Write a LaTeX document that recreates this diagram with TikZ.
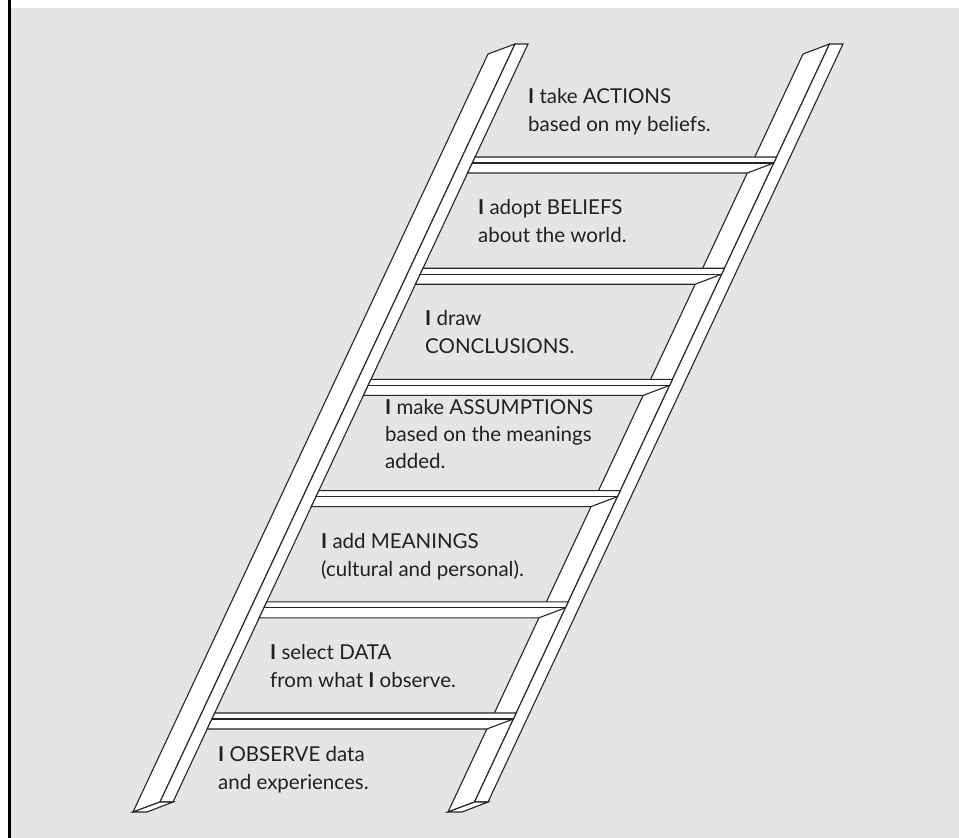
\documentclass[tikz,border=0pt]{standalone}
\usepackage{fontspec}
\setmainfont{Lato}
\begin{document}
\begin{tikzpicture}[x=1pt,y=-1pt,
  beam/.style={draw=inkline,fill=white,line width=1.1pt,line join=miter},
  edge/.style={draw=inkline,line width=1.1pt},
  label/.style={anchor=base west,inner sep=0pt,align=left,text=inktext,
    font=\fontsize{20.5}{28}\selectfont}]
\definecolor{panel}{HTML}{E5E5E5}
\definecolor{inkline}{HTML}{262626}
\definecolor{inktext}{HTML}{231F20}
\useasboundingbox (0,0) rectangle (959,838);
% panel with its dark left edge
\fill[panel] (10,8) rectangle (959,838);
\fill[black] (8,0) rectangle (10.5,838);

% left rail: front face, side face, cut end at the foot
\filldraw[beam] (488,54) -- (515,44) -- (160,802) -- (133,812) -- cycle;
\filldraw[beam] (515,44) -- (528,44) -- (173,802) -- (160,802) -- cycle;
\filldraw[beam] (133,812) -- (147,812) -- (173,802) -- (160,802) -- cycle;
% right rail
\begin{scope}[xshift=315pt]
\filldraw[beam] (488,54) -- (514.5,44) -- (159.5,802) -- (133,812) -- cycle;
\filldraw[beam] (514.5,44) -- (528,44) -- (173,802) -- (159.5,802) -- cycle;
\filldraw[beam] (133,812) -- (147,812) -- (173,802) -- (159.5,802) -- cycle;
\end{scope}

% rungs, laid across the front of the right rail
\foreach \yt in {157,268.2,379.4,490.6,601.8,713} {
  \pgfmathsetmacro\ym{\yt+6}
  \pgfmathsetmacro\yb{\yt+16}
  \pgfmathsetmacro\xa{528-0.46834*(\yt-44)}
  \pgfmathsetmacro\xb{829.5-0.46834*(\yt-44)}
  \pgfmathsetmacro\xc{829.5-0.46834*(\ym-44)}
  \pgfmathsetmacro\xd{803-0.46834*(\yb-54)}
  \pgfmathsetmacro\xe{528-0.46834*(\yb-44)}
  \pgfmathsetmacro\xf{528-0.46834*(\ym-44)}
  \filldraw[beam] (\xa,\yt) -- (\xb,\yt) -- (\xc,\ym) -- (\xd,\yb) -- (\xe,\yb) -- cycle;
  \draw[edge] (\xf,\ym) -- (\xc,\ym);
}

% the steps, from the top of the ladder down (anchored at the last line)
\node[label] (actions) at (528,131) {\textbf{I} take ACTIONS\\based on my beliefs.};
\node[label] (beliefs) at (478,242) {\textbf{I} adopt BELIEFS\\about the world.};
\node[label] (conclusions) at (425,353.4) {\textbf{I} draw\\CONCLUSIONS.};
\node[label,font=\fontsize{20.5}{27}\selectfont] (assumptions) at (385,468) {\textbf{I} make ASSUMPTIONS\\based on the meanings\\added.};
\node[label] (meanings) at (321,576) {\textbf{I} add MEANINGS\\(cultural and personal).};
\node[label] (data) at (270,687) {\textbf{I} select DATA\\from what \textbf{I} observe.};
\node[label] (observe) at (218,789) {\textbf{I} OBSERVE data\\and experiences.};
\end{tikzpicture}
\end{document}
